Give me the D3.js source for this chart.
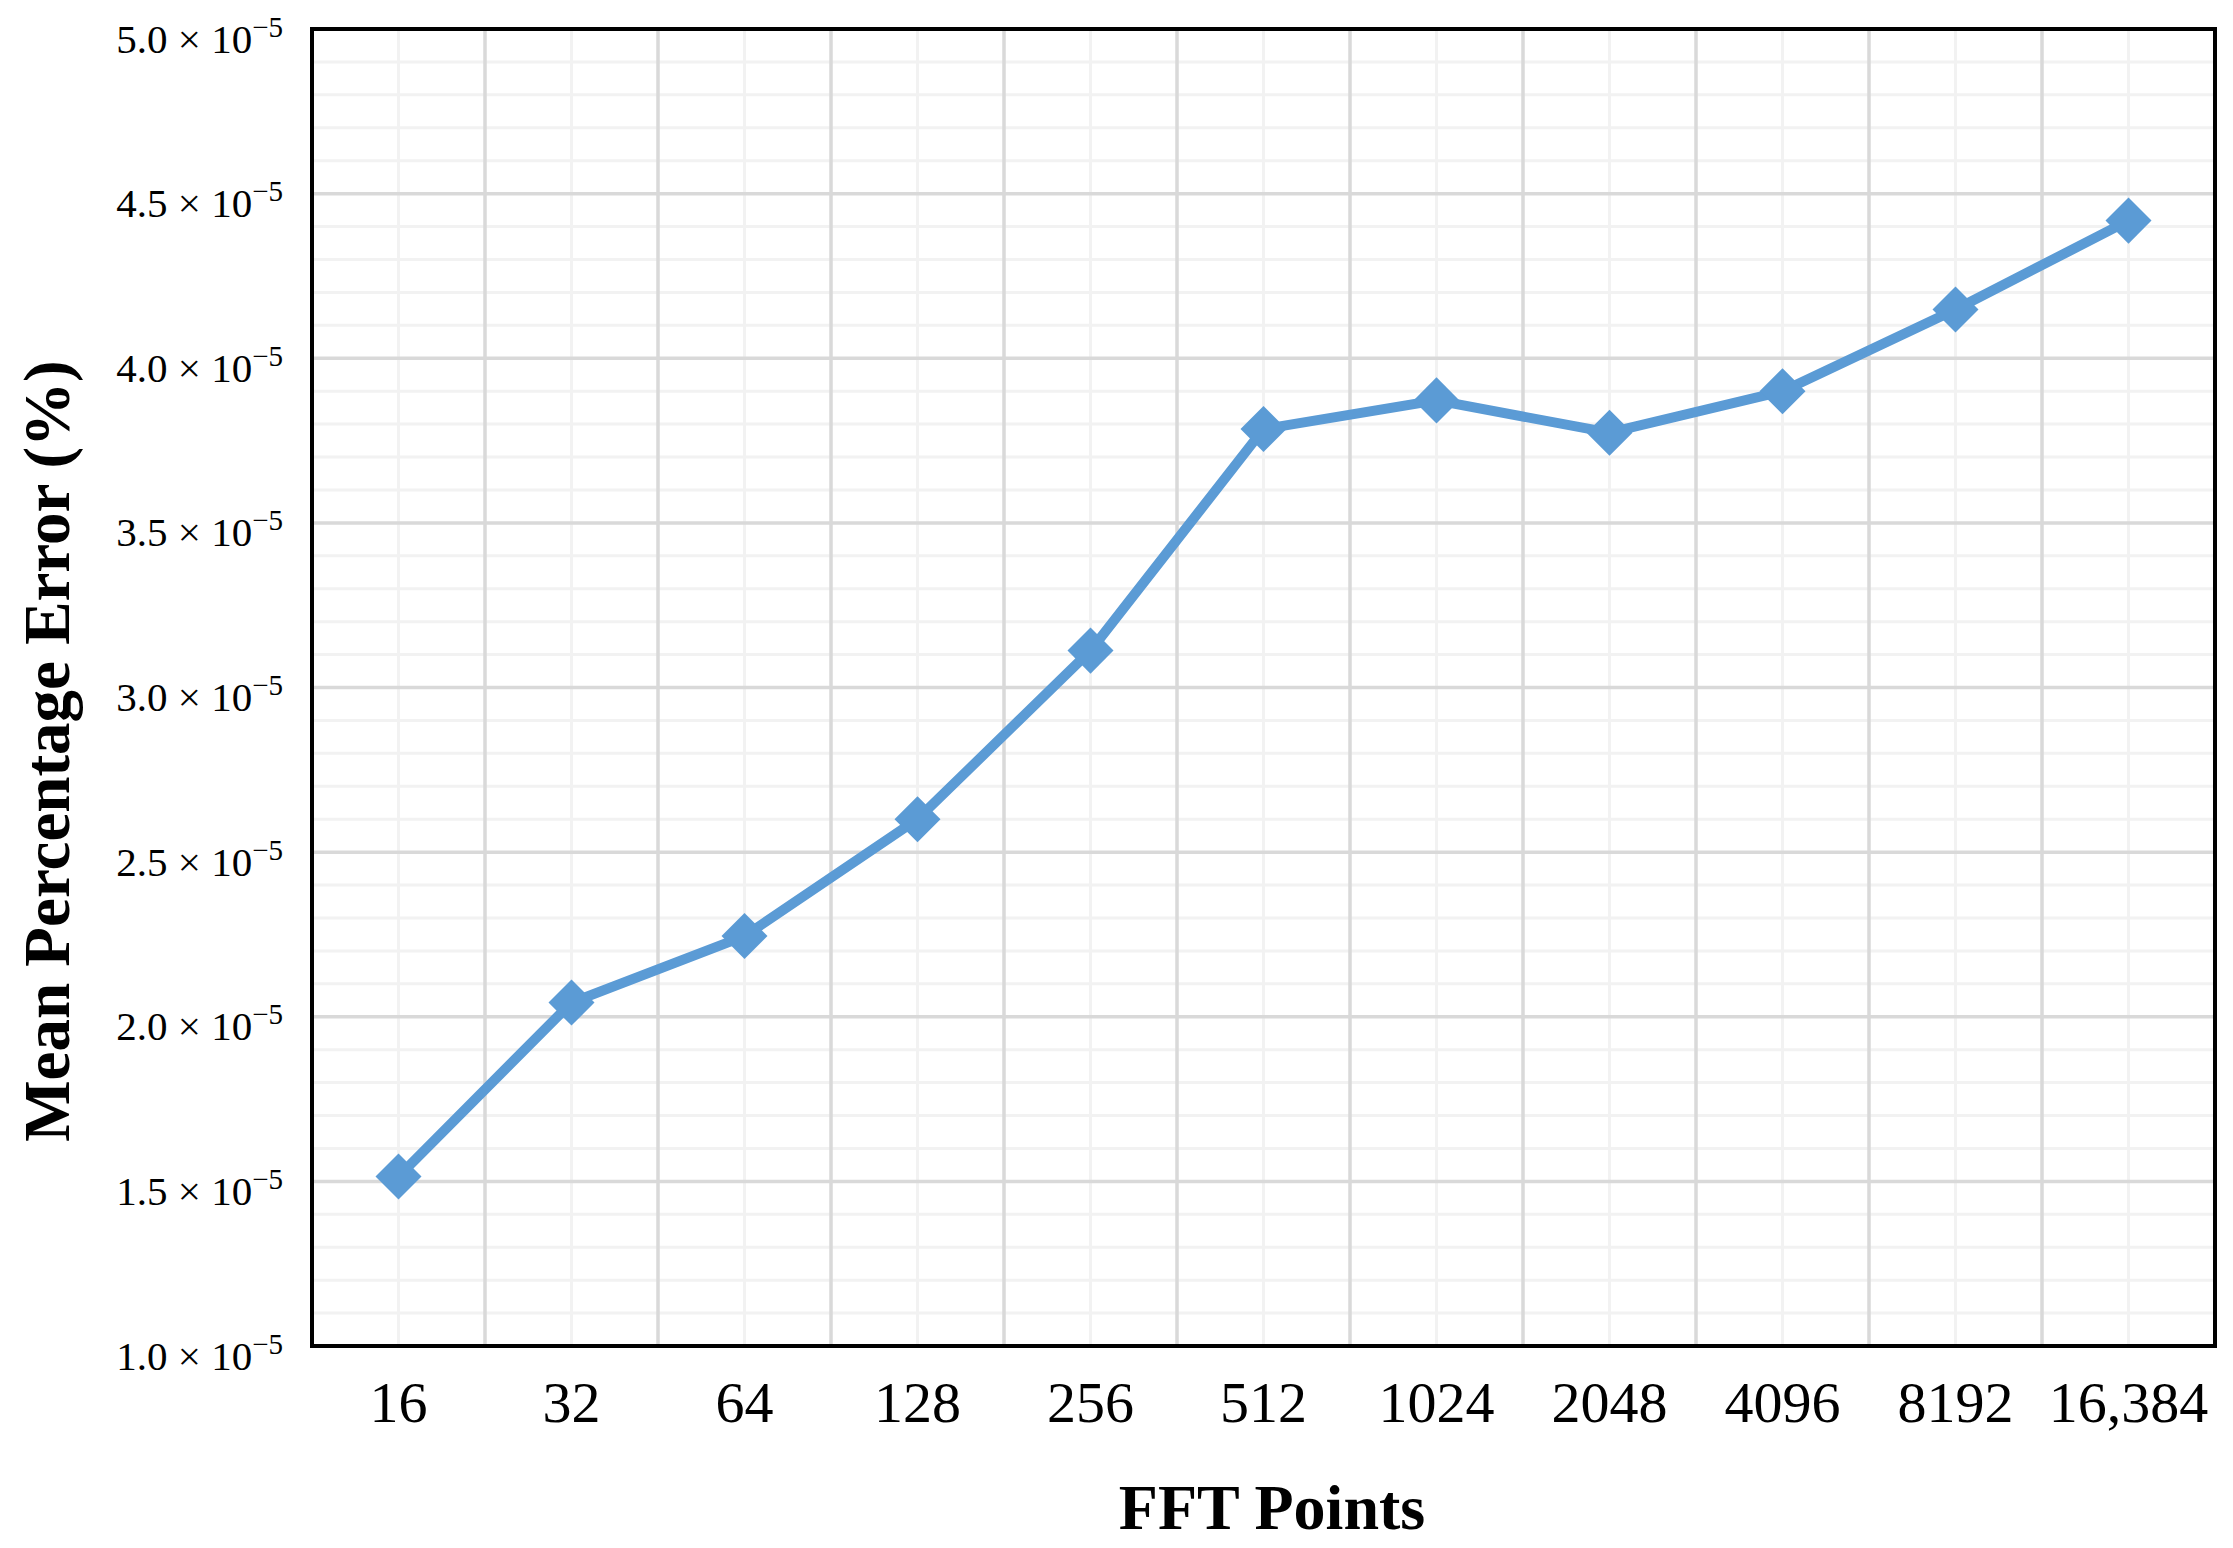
<!DOCTYPE html>
<html>
<head>
<meta charset="utf-8">
<script src="https://cdn.jsdelivr.net/npm/d3@7"></script>
<style>
  html, body { margin: 0; padding: 0; background: #ffffff; }
  svg { display: block; }
</style>
</head>
<body>
<div id="chart"></div>
<script>
// ---- data ----
const categories = ["16", "32", "64", "128", "256", "512", "1024", "2048", "4096", "8192", "16,384"];
const errorValues = [1.515e-5, 2.043e-5, 2.245e-5, 2.600e-5, 3.112e-5, 3.785e-5, 3.872e-5, 3.774e-5, 3.900e-5, 4.148e-5, 4.418e-5];
const yTicks = [1.0e-5, 1.5e-5, 2.0e-5, 2.5e-5, 3.0e-5, 3.5e-5, 4.0e-5, 4.5e-5, 5.0e-5];
const yTickMantissas = ["1.0", "1.5", "2.0", "2.5", "3.0", "3.5", "4.0", "4.5", "5.0"];
const yTickExponent = "\u22125";
const xTitle = "FFT Points";
const yTitle = "Mean Percentage Error (%)";

// ---- layout ----
const W = 2233, H = 1548;
const plot = { left: 312, right: 2215, top: 29, bottom: 1346 };
const serif = "'Liberation Serif', 'Times New Roman', Times, serif";

const svg = d3.select("#chart").append("svg")
  .attr("width", W).attr("height", H)
  .attr("viewBox", `0 0 ${W} ${H}`);

const x = d3.scaleBand().domain(categories).range([plot.left, plot.right]).padding(0);
const y = d3.scaleLinear().domain([1.0e-5, 5.0e-5]).range([plot.bottom, plot.top]);
const bw = x.bandwidth();

// ---- grid ----
const grid = svg.append("g");
const minorY = y.ticks(40).filter(v => !yTicks.some(t => Math.abs(t - v) < 1e-9));
grid.selectAll("line.minory").data(minorY).join("line")
  .attr("x1", plot.left).attr("x2", plot.right)
  .attr("y1", d => y(d)).attr("y2", d => y(d))
  .attr("stroke", "#F2F2F2").attr("stroke-width", 3);
grid.selectAll("line.minorx").data(categories).join("line")
  .attr("x1", d => x(d) + bw / 2).attr("x2", d => x(d) + bw / 2)
  .attr("y1", plot.top).attr("y2", plot.bottom)
  .attr("stroke", "#F2F2F2").attr("stroke-width", 3);
grid.selectAll("line.majory").data(yTicks).join("line")
  .attr("x1", plot.left).attr("x2", plot.right)
  .attr("y1", d => y(d)).attr("y2", d => y(d))
  .attr("stroke", "#D9D9D9").attr("stroke-width", 3.5);
grid.selectAll("line.majorx").data(categories.slice(1)).join("line")
  .attr("x1", d => x(d)).attr("x2", d => x(d))
  .attr("y1", plot.top).attr("y2", plot.bottom)
  .attr("stroke", "#D9D9D9").attr("stroke-width", 3.5);

// ---- frame ----
svg.append("rect")
  .attr("x", plot.left).attr("y", plot.top)
  .attr("width", plot.right - plot.left).attr("height", plot.bottom - plot.top)
  .attr("fill", "none").attr("stroke", "#000").attr("stroke-width", 4);

// ---- series ----
const pts = categories.map((c, i) => ({ c, v: errorValues[i] }));
const line = d3.line().x(d => x(d.c) + bw / 2).y(d => y(d.v));
svg.append("path").datum(pts)
  .attr("d", line)
  .attr("fill", "none").attr("stroke", "#5B9BD5")
  .attr("stroke-width", 10).attr("stroke-linejoin", "miter");
const diamond = d3.symbol().type(d3.symbolSquare).size(1060);
svg.selectAll("path.marker").data(pts).join("path")
  .attr("class", "marker")
  .attr("d", diamond)
  .attr("transform", d => `translate(${x(d.c) + bw / 2},${y(d.v)}) rotate(45)`)
  .attr("fill", "#5B9BD5");

// ---- axes ----
const xAxis = svg.append("g")
  .attr("transform", `translate(0,${plot.bottom})`)
  .call(d3.axisBottom(x).tickSize(0));
xAxis.select(".domain").remove();
xAxis.selectAll("text")
  .attr("y", 76).attr("dy", null)
  .attr("font-family", serif).attr("font-size", 58).attr("fill", "#000");

const yAxis = svg.append("g")
  .attr("transform", `translate(${plot.left},0)`)
  .call(d3.axisLeft(y).tickValues(yTicks).tickSize(0).tickFormat(""));
yAxis.select(".domain").remove();
yAxis.selectAll("text").each(function (d, i) {
  const t = d3.select(this)
    .attr("x", -29).attr("y", 23).attr("dy", null)
    .attr("text-anchor", "end")
    .attr("font-family", serif).attr("fill", "#000");
  t.append("tspan").attr("font-size", 41).text(yTickMantissas[i] + " \u00D7 10");
  t.append("tspan").attr("font-size", 29).attr("dy", -16).text(yTickExponent);
});

// ---- titles ----
svg.append("text")
  .attr("x", 1272).attr("y", 1529)
  .attr("text-anchor", "middle")
  .attr("font-family", serif).attr("font-weight", "bold").attr("font-size", 64)
  .attr("fill", "#000")
  .text(xTitle);

svg.append("text")
  .attr("transform", "translate(69,751) rotate(-90)")
  .attr("text-anchor", "middle")
  .attr("font-family", serif).attr("font-weight", "bold").attr("font-size", 65)
  .attr("fill", "#000")
  .text(yTitle);
</script>
</body>
</html>
